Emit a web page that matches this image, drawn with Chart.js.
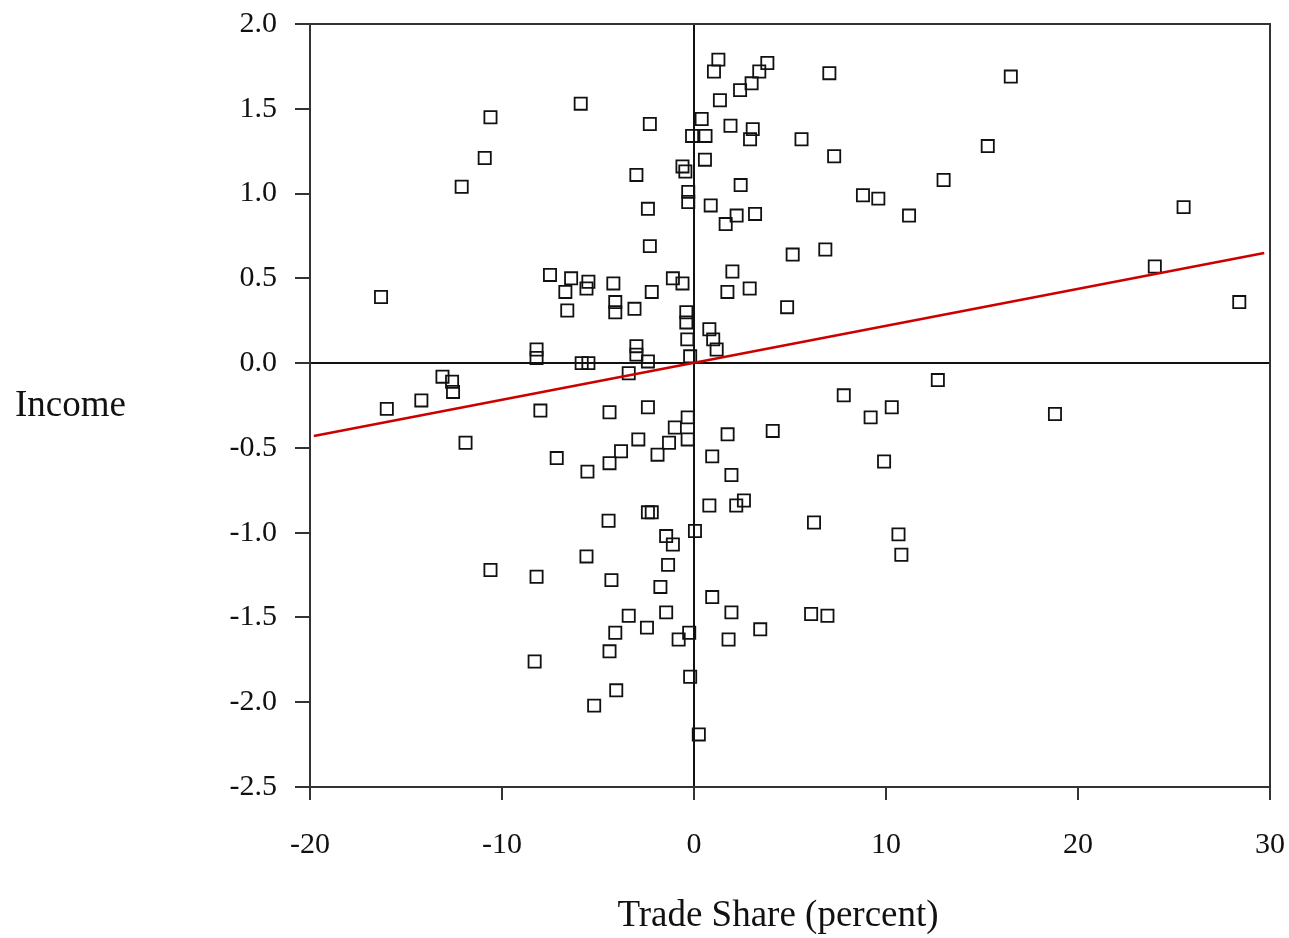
<!DOCTYPE html>
<html lang="en">
<head>
    <meta charset="UTF-8">
    <title>Income vs Trade Share</title>
    <script src="https://cdn.jsdelivr.net/npm/chart.js"></script>
    <style>
        body {
            background-color: white;
            margin: 0;
            padding: 0;
            overflow: hidden;
        }
        canvas {
            display: block;
        }
    </style>
</head>
<body>
    <canvas id="scatterChart" width="1289" height="938"></canvas>

    <script>
        // trade share (percent) and income, one entry per country
        const tradeShare = [
            -16.3, -10.6, -10.9, -12.1, -5.9, -2.3, -3.0, -2.4, -2.3, -7.5, -6.4, -6.7, -5.5, -5.6, -4.2, -4.1, -4.1, -6.6, -3.1,
            -2.2, -1.1, -0.6, -8.2, -8.2, -5.85, -5.5, -3.0, -3.0, -2.4, -0.6, -0.45, -0.3, -0.3, -0.1, -0.4, -0.4, -0.35, -0.2,
            1.27, 1.04, 3.82, 3.4, 3.0, 2.4, 1.35, 0.4, 0.6, 1.9, 3.06, 2.92, 0.57, 2.43, 0.87, 2.22, 1.65, 3.18, 5.14, 6.84,
            2.0, 1.74, 2.9, 4.85, 0.8, 1.0, 1.18, 7.05, 16.5, 5.6, 7.3, 15.3, 13.0, 8.8, 9.6, 11.2, 25.5, 24.0, 28.4,
            -16.0, -14.2, -13.1, -12.6, -12.55, -11.9, -8.0, -4.4, -2.4, -3.4, -1.0, -1.3, -1.9, -2.9, -3.8, -4.4, -5.55, -7.15,
            -4.45, -2.4, -2.2, -1.45, -1.1, -1.35, -1.75, -5.6, -10.6, -8.2, -4.3, -1.45, -2.45, -3.4, -4.1, -4.4, -0.8, -0.25,
            -8.3, -4.05, -5.2, -0.2, -0.33, -0.33,
            12.7, 7.8, 10.3, 9.2, 18.8, 4.1, 1.75, 0.95, 9.9, 1.95, 0.8, 2.2, 2.6, 6.25, 10.65, 10.8, 0.05, 0.95, 1.95, 6.1,
            6.95, 3.45, 1.8, 0.25
        ];
        const income = [
            0.39, 1.45, 1.21, 1.04, 1.53, 1.41, 1.11, 0.91, 0.69, 0.52, 0.50, 0.42, 0.48, 0.44, 0.47, 0.36, 0.30, 0.31, 0.32,
            0.42, 0.50, 0.47, 0.08, 0.03, 0.0, 0.0, 0.10, 0.05, 0.01, 1.16, 1.13, 1.01, 0.95, 1.34, 0.30, 0.24, 0.14, 0.04,
            1.79, 1.72, 1.77, 1.72, 1.65, 1.61, 1.55, 1.44, 1.34, 1.40, 1.38, 1.32, 1.20, 1.05, 0.93, 0.87, 0.82, 0.88, 0.64, 0.67,
            0.54, 0.42, 0.44, 0.33, 0.20, 0.14, 0.08, 1.71, 1.69, 1.32, 1.22, 1.28, 1.08, 0.99, 0.97, 0.87, 0.92, 0.57, 0.36,
            -0.27, -0.22, -0.08, -0.11, -0.17, -0.47, -0.28, -0.29, -0.26, -0.06, -0.38, -0.47, -0.54, -0.45, -0.52, -0.59, -0.64, -0.56,
            -0.93, -0.88, -0.88, -1.02, -1.07, -1.19, -1.32, -1.14, -1.22, -1.26, -1.28, -1.47, -1.56, -1.49, -1.59, -1.70, -1.63, -1.59,
            -1.76, -1.93, -2.02, -1.85, -0.32, -0.45,
            -0.10, -0.19, -0.26, -0.32, -0.30, -0.40, -0.42, -0.55, -0.58, -0.66, -0.84, -0.84, -0.81, -0.94, -1.01, -1.13, -0.99, -1.38,
            -1.47, -1.48, -1.49, -1.57, -1.63, -2.19
        ];

        // fitted line end points
        const fitX = [-19.8, 29.7];
        const fitY = [-0.43, 0.65];

        const xTickValues = [-20, -10, 0, 10, 20, 30];
        const yTickValues = [-2.5, -2.0, -1.5, -1.0, -0.5, 0.0, 0.5, 1.0, 1.5, 2.0];

        const xTitle = 'Trade Share (percent)';
        const yTitle = 'Income';

        const serif = '"Liberation Serif", "DejaVu Serif", serif';

        const points = tradeShare.map((x, i) => ({ x: x, y: income[i] }));
        const fitLine = fitX.map((x, i) => ({ x: x, y: fitY[i] }));

        // frame around the plot and the two titles
        const framePlugin = {
            id: 'frame',
            beforeDatasetsDraw(chart) {
                const { ctx, chartArea } = chart;
                ctx.save();
                ctx.strokeStyle = '#333';
                ctx.lineWidth = 2;
                ctx.strokeRect(chartArea.left, chartArea.top,
                    chartArea.right - chartArea.left, chartArea.bottom - chartArea.top);
                ctx.restore();
            },
            afterDraw(chart) {
                const { ctx, chartArea } = chart;
                ctx.save();
                ctx.fillStyle = '#111';
                ctx.font = '37px ' + serif;
                ctx.textBaseline = 'middle';
                ctx.textAlign = 'left';
                ctx.fillText(yTitle, chartArea.left - 295, chartArea.top + 382);
                ctx.textAlign = 'center';
                ctx.fillText(xTitle, chartArea.left + 468, chartArea.bottom + 129);
                ctx.restore();
            }
        };

        const ctx = document.getElementById('scatterChart').getContext('2d');
        const chart = new Chart(ctx, {
            type: 'scatter',
            data: {
                datasets: [
                    {
                        label: 'countries',
                        data: points,
                        pointStyle: 'rect',
                        pointRadius: 8.6,
                        pointBorderWidth: 1.8,
                        borderColor: '#111',
                        backgroundColor: 'rgba(0,0,0,0)',
                        order: 2
                    },
                    {
                        label: 'fit',
                        data: fitLine,
                        showLine: true,
                        borderColor: '#cc0000',
                        borderWidth: 2.5,
                        pointRadius: 0,
                        fill: false,
                        order: 1
                    }
                ]
            },
            options: {
                responsive: false,
                animation: false,
                layout: {
                    padding: { top: 24, right: 19, left: 0, bottom: 0 }
                },
                plugins: {
                    legend: { display: false },
                    tooltip: { enabled: false }
                },
                scales: {
                    x: {
                        type: 'linear',
                        min: -20,
                        max: 30,
                        afterBuildTicks: (scale) => {
                            scale.ticks = xTickValues.map(v => ({ value: v }));
                        },
                        afterFit: (scale) => {
                            scale.height = 151;
                            scale.paddingLeft = 0;
                            scale.paddingRight = 0;
                        },
                        border: { display: false },
                        grid: {
                            color: (c) => (c.tick && c.tick.value === 0 ? '#111' : 'rgba(0,0,0,0)'),
                            lineWidth: 2,
                            tickColor: '#333',
                            tickLength: 13,
                            drawTicks: true
                        },
                        ticks: {
                            color: '#111',
                            padding: 27,
                            maxRotation: 0,
                            font: { family: serif, size: 30 },
                            callback: (v) => String(v)
                        }
                    },
                    y: {
                        type: 'linear',
                        min: -2.5,
                        max: 2.0,
                        afterBuildTicks: (scale) => {
                            scale.ticks = yTickValues.map(v => ({ value: v }));
                        },
                        afterFit: (scale) => {
                            scale.width = 310;
                            scale.paddingTop = 0;
                            scale.paddingBottom = 0;
                        },
                        border: { display: false },
                        grid: {
                            color: (c) => (c.tick && c.tick.value === 0 ? '#111' : 'rgba(0,0,0,0)'),
                            lineWidth: 2,
                            tickColor: '#333',
                            tickLength: 15,
                            drawTicks: true
                        },
                        ticks: {
                            color: '#111',
                            padding: 18,
                            font: { family: serif, size: 30 },
                            callback: (v) => Number(v).toFixed(1)
                        }
                    }
                }
            },
            plugins: [framePlugin]
        });
    </script>
</body>
</html>
